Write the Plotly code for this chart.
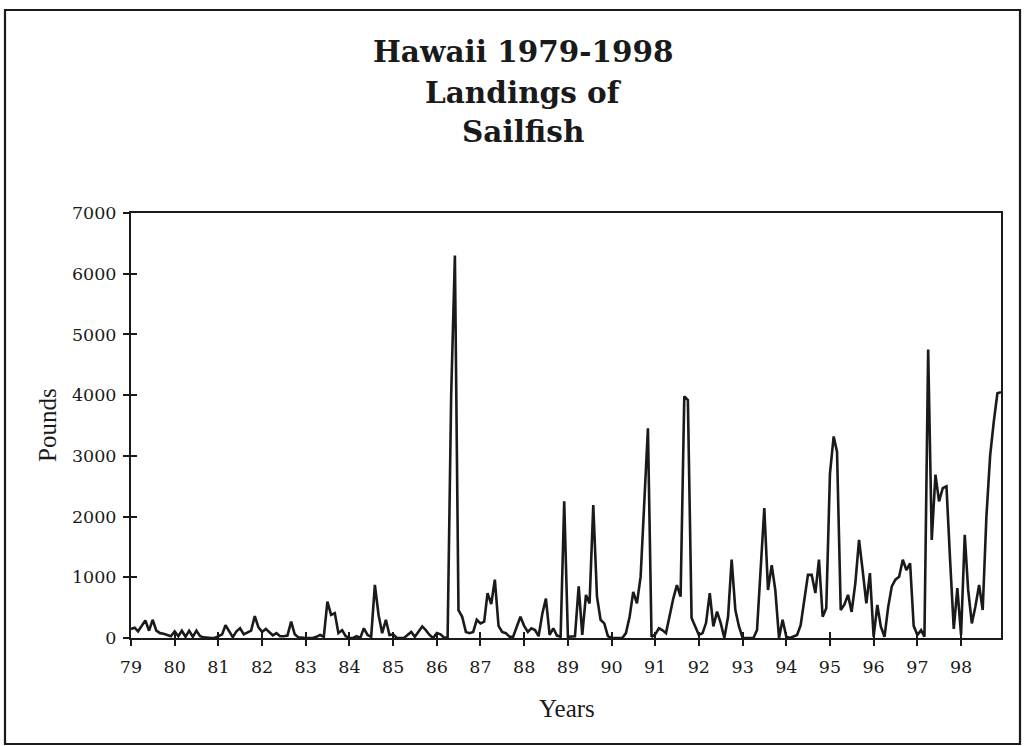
import pandas as pd
import plotly.graph_objects as go

# Monthly landings of sailfish (pounds), Hawaii
landings_1979 = [150, 170, 110, 200, 290, 120, 300, 120, 80, 70, 50, 30]
landings_1980 = [110, 30, 120, 20, 120, 20, 120, 30, 10, 0, 0, 0]
landings_1981 = [30, 60, 210, 100, 15, 110, 160, 60, 90, 120, 360, 180]
landings_1982 = [100, 150, 100, 45, 80, 30, 30, 40, 270, 60, 10, 0]
landings_1983 = [0, 0, 0, 20, 50, 20, 600, 380, 410, 80, 130, 30]
landings_1984 = [0, 0, 30, 0, 160, 50, 20, 875, 380, 80, 300, 50]
landings_1985 = [60, 0, 0, 0, 50, 100, 20, 100, 190, 130, 50, 0]
landings_1986 = [80, 60, 10, 0, 4000, 6300, 460, 350, 100, 80, 100, 300]
landings_1987 = [240, 270, 740, 560, 960, 200, 100, 80, 20, 20, 200, 350]
landings_1988 = [200, 100, 160, 130, 30, 400, 650, 50, 160, 40, 20, 2250]
landings_1989 = [20, 30, 30, 850, 50, 710, 570, 2190, 680, 300, 240, 30]
landings_1990 = [0, 0, 0, 0, 80, 350, 760, 570, 1010, 2200, 3455, 20]
landings_1991 = [60, 160, 130, 80, 380, 650, 870, 680, 3980, 3920, 330, 190]
landings_1992 = [50, 80, 250, 740, 190, 435, 250, 0, 350, 1290, 460, 190]
landings_1993 = [0, 0, 0, 0, 130, 1120, 2140, 790, 1200, 790, 0, 300]
landings_1994 = [20, 0, 20, 50, 210, 600, 1040, 1040, 740, 1290, 350, 490]
landings_1995 = [2710, 3320, 3070, 460, 550, 710, 430, 900, 1615, 1120, 570, 1070]
landings_1996 = [20, 545, 190, 20, 500, 850, 960, 1010, 1290, 1120, 1230, 200]
landings_1997 = [50, 130, 20, 4750, 1615, 2690, 2250, 2470, 2500, 1300, 150, 820]
landings_1998 = [50, 1700, 800, 240, 520, 875, 460, 2000, 3000, 3550, 4030, 4050]

years = list(range(1979, 1999))
year_labels = ["79", "80", "81", "82", "83", "84", "85", "86", "87", "88",
               "89", "90", "91", "92", "93", "94", "95", "96", "97", "98"]
y_ticks = [0, 1000, 2000, 3000, 4000, 5000, 6000, 7000]

title_lines = ["Hawaii 1979-1998", "Landings of", "Sailfish"]
x_title = "Years"
y_title = "Pounds"

values = (landings_1979 + landings_1980 + landings_1981 + landings_1982 +
          landings_1983 + landings_1984 + landings_1985 + landings_1986 +
          landings_1987 + landings_1988 + landings_1989 + landings_1990 +
          landings_1991 + landings_1992 + landings_1993 + landings_1994 +
          landings_1995 + landings_1996 + landings_1997 + landings_1998)
months = pd.date_range("1979-01-01", periods=len(values), freq="MS")
tick_dates = [pd.Timestamp(f"{y}-01-01") for y in years]
x_range = [months[0], months[-1]]

W, H = 1026, 746
L, R, T, B = 131, 25, 213, 108
pw, ph = W - L - R, H - T - B


def px(x):
    return (x - L) / pw


def py(y):
    return (H - B - y) / ph


fig = go.Figure()
fig.add_trace(go.Scatter(x=months, y=values, mode="lines",
                         line=dict(color="#1a1a1a", width=2.6),
                         showlegend=False, hoverinfo="skip"))
# invisible trace so the overlay axes (inner tick halves) are drawn
fig.add_trace(go.Scatter(x=[months[0]], y=[0], xaxis="x2", yaxis="y2",
                         mode="markers", marker=dict(opacity=0),
                         showlegend=False, hoverinfo="skip"))

tickfont = dict(family="DejaVu Serif", size=17.5, color="#1a1a1a")
axis_common = dict(showgrid=False, zeroline=False, showline=True,
                   linecolor="#1a1a1a", linewidth=2, ticks="outside",
                   ticklen=6, tickwidth=1.6, tickcolor="#1a1a1a", mirror=True)

fig.update_layout(
    width=W, height=H,
    margin=dict(l=L, r=R, t=T, b=B, autoexpand=False),
    paper_bgcolor="white", plot_bgcolor="white",
    xaxis=dict(type="date", range=x_range, tickmode="array",
               tickvals=tick_dates, ticktext=year_labels, tickfont=tickfont,
               ticklabelstandoff=6, **axis_common),
    yaxis=dict(range=[0, 7000], tickmode="array", tickvals=y_ticks,
               ticktext=[str(v) for v in y_ticks], tickfont=tickfont,
               ticklabelstandoff=3, **axis_common),
    xaxis2=dict(type="date", overlaying="x", range=x_range, tickmode="array",
                tickvals=tick_dates, ticks="inside", ticklen=6, tickwidth=1.6,
                tickcolor="#1a1a1a", showticklabels=False, showgrid=False,
                zeroline=False, showline=False, anchor="y2", side="bottom"),
    yaxis2=dict(overlaying="y", range=[0, 7000], tickmode="array",
                tickvals=y_ticks, ticks="inside", ticklen=6, tickwidth=1.6,
                tickcolor="#1a1a1a", showticklabels=False, showgrid=False,
                zeroline=False, showline=False, anchor="x2", side="left"),
)

title_font = dict(family="DejaVu Serif", size=29.5, color="#1a1a1a")
for text, ypix in zip(title_lines, [52, 92, 132]):
    fig.add_annotation(text=f"<b>{text}</b>", x=px(523), y=py(ypix),
                       xref="paper", yref="paper", showarrow=False,
                       xanchor="center", yanchor="middle", font=title_font)

label_font = dict(family="Liberation Serif", size=25, color="#1a1a1a")
fig.add_annotation(text=y_title, x=px(47), y=py(425), xref="paper",
                   yref="paper", showarrow=False, textangle=-90,
                   xanchor="center", yanchor="middle", font=label_font)
fig.add_annotation(text=x_title, x=px(567), y=py(708), xref="paper",
                   yref="paper", showarrow=False, xanchor="center",
                   yanchor="middle", font=label_font)

# outer frame of the figure panel
fig.add_shape(type="rect", xref="paper", yref="paper",
              x0=px(5), x1=px(1020), y0=py(744), y1=py(10),
              line=dict(color="#1a1a1a", width=2.2), layer="below")

fig.write_html("out.html",
               config={"displayModeBar": False},
               post_script="document.body.style.margin='0';"
                           "document.body.style.overflow='hidden';")
